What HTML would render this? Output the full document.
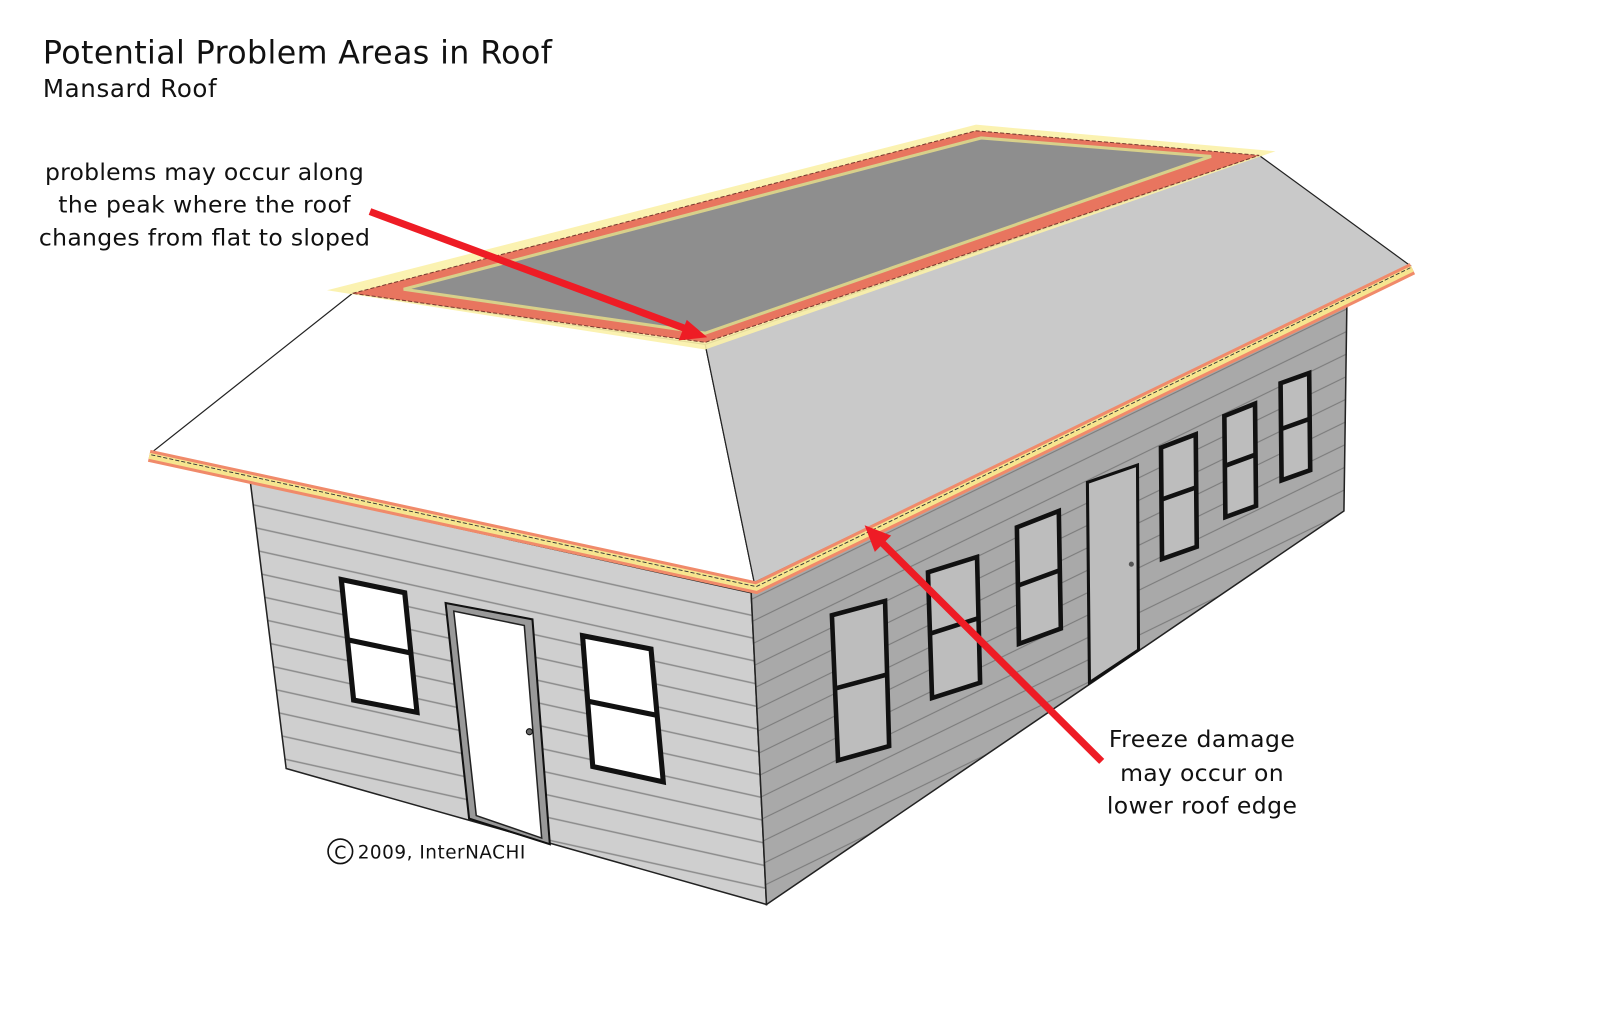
<!DOCTYPE html>
<html><head><meta charset="utf-8"><style>
html,body{margin:0;padding:0;background:#fff;}
svg{display:block;}
text{font-family:"DejaVu Sans","Liberation Sans",sans-serif;fill:#111;}
</style></head><body>
<svg width="1600" height="1035" viewBox="0 0 1600 1035" xmlns="http://www.w3.org/2000/svg">
<defs>
<pattern id="sidingF" patternUnits="userSpaceOnUse" width="40" height="22" patternTransform="skewY(12.5)">
<rect width="40" height="22" fill="#cfcfcf"/><line x1="0" y1="21" x2="40" y2="21" stroke="#8a8a8a" stroke-width="1.4"/></pattern>
<pattern id="sidingS" patternUnits="userSpaceOnUse" width="40" height="22" patternTransform="skewY(-26)">
<rect width="40" height="22" fill="#a9a9a9"/><line x1="0" y1="21" x2="40" y2="21" stroke="#7c7c7c" stroke-width="1.3"/></pattern>
</defs>
<g transform="scale(1.022)">
<text x="42" y="62" font-size="31" textLength="498">Potential Problem Areas in Roof</text>
<text x="42" y="95" font-size="24" textLength="170">Mansard Roof</text>

<text x="200" y="176" font-size="23" text-anchor="middle" textLength="312">problems may occur along</text>
<text x="200" y="208" font-size="23" text-anchor="middle" textLength="286">the peak where the roof</text>
<text x="200" y="240" font-size="23" text-anchor="middle" textLength="324">changes from flat to sloped</text>

<!-- walls -->
<polygon points="245,472 735,580 750,885 280,752" fill="url(#sidingF)" stroke="#222" stroke-width="1.5"/>
<polygon points="735,580 1318,290 1315,500 750,885" fill="url(#sidingS)" stroke="#222" stroke-width="1.5"/>

<!-- front windows/door -->
<g stroke="#111" stroke-width="5" fill="#fff">
<polygon points="334,567 396,580 408,697 346,685"/>
<line x1="340" y1="626" x2="402" y2="639"/>
<polygon points="570,622 637,635 649,765 580,750"/>
<line x1="575" y1="686" x2="643" y2="700"/>
</g>
<polygon points="436,590 521,606 538,826 459,801" fill="#999" stroke="#111" stroke-width="2"/>
<polygon points="444,598 513,612 530,820 466,798" fill="#fff" stroke="#222" stroke-width="1.5"/>
<circle cx="518" cy="716" r="3" fill="#666" stroke="#111"/>

<!-- side windows -->
<g stroke="#111" stroke-width="4.5" fill="#bdbdbd">
<polygon points="814,602 866,588 870,730 820,744"/>
<line x1="816" y1="674" x2="868" y2="660"/>
<polygon points="908,560 956,545 959,668 912,683"/>
<line x1="910" y1="620" x2="957" y2="605"/>
<polygon points="995,516 1036,500 1038,615 997,630"/>
<line x1="996" y1="573" x2="1037" y2="558"/>
<polygon points="1136,438 1170,425 1171,535 1137,547"/>
<line x1="1136" y1="489" x2="1170" y2="477"/>
<polygon points="1198,407 1228,395 1229,495 1199,506"/>
<line x1="1198" y1="456" x2="1228" y2="445"/>
<polygon points="1253,375 1281,365 1282,460 1254,470"/>
<line x1="1253" y1="420" x2="1281" y2="410"/>
</g>
<polygon points="1064,472 1113,455 1114,636 1066,668" fill="#bdbdbd" stroke="#111" stroke-width="3"/>
<circle cx="1107" cy="552" r="2.5" fill="#555"/>

<!-- roof slopes -->
<polygon points="345,287 690,337 738,570 148,443" fill="#fff" stroke="#222" stroke-width="1.2"/>
<polygon points="690,337 1232,152 1380,260 738,570" fill="#c9c9c9" stroke="#222" stroke-width="1.2"/>

<!-- eave bands -->
<polyline points="146,446 740,575 1382,263" fill="none" stroke="#f08a6a" stroke-width="12" stroke-linejoin="miter"/>
<polyline points="146,446 740,575 1382,263" fill="none" stroke="#f6e58f" stroke-width="6"/>
<polyline points="148,445 740,574 1380,262" fill="none" stroke="#333" stroke-width="0.9" stroke-dasharray="4,2"/>

<!-- flat roof -->
<polygon points="320,284 955,122 1248,148 690,342" fill="#fbf1a8" opacity="0.9"/>
<polygon points="345,287 955,128 1232,152 690,335" fill="#e8755f" stroke="#7a3a30" stroke-width="1" stroke-dasharray="4,2"/>
<polygon points="395,283 960,135 1185,153 690,326" fill="#8e8e8e" stroke="#d8d08a" stroke-width="3"/>

<!-- arrows -->
<line x1="362" y1="207" x2="672" y2="322" stroke="#ee1c25" stroke-width="7"/>
<polygon points="692,330 664,333 672,313" fill="#ee1c25"/>
<line x1="1078" y1="745" x2="862" y2="530" stroke="#ee1c25" stroke-width="7"/>
<polygon points="846,514 872,524 856,540" fill="#ee1c25"/>

<text x="1176" y="731" font-size="23" text-anchor="middle" textLength="182">Freeze damage</text>
<text x="1176" y="764" font-size="23" text-anchor="middle" textLength="160">may occur on</text>
<text x="1176" y="796" font-size="23" text-anchor="middle" textLength="186">lower roof edge</text>

<circle cx="333" cy="833" r="12" fill="none" stroke="#111" stroke-width="1.6"/>
<text x="333" y="840" font-size="17" text-anchor="middle">C</text>
<text x="350" y="840" font-size="18" textLength="164">2009, InterNACHI</text>
</g>
</svg>
</body></html>
